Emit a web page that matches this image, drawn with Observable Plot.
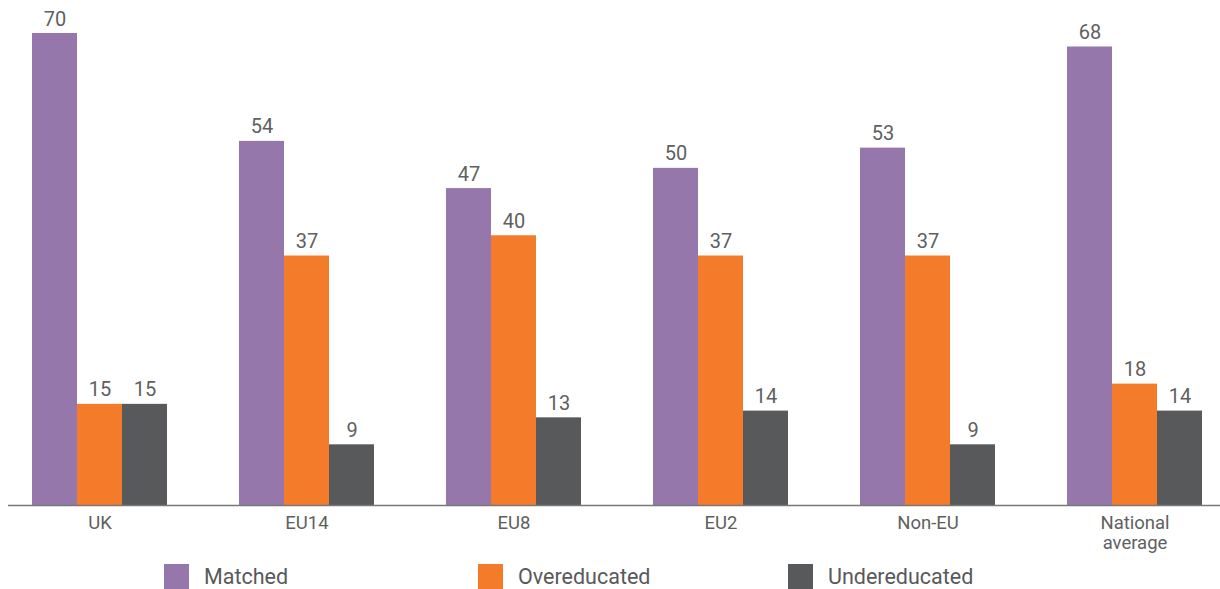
<!DOCTYPE html>
<html>
<head>
<meta charset="utf-8">
<script src="https://cdn.jsdelivr.net/npm/d3@7"></script>
<script src="https://cdn.jsdelivr.net/npm/@observablehq/plot@0.6"></script>
<style>
  body { margin: 0; background: #fff; font-family: Roboto, sans-serif; }
  #legend { position: relative; height: 27px; margin-top: 4px; }
  .item { position: absolute; top: 0; display: flex; align-items: center; height: 25px; color: #58595B; font-size: 21.5px; }
  .sw { width: 25px; height: 25px; margin-right: 15px; }
</style>
</head>
<body>
<div id="chart"></div>
<div id="legend"></div>
<script>
const groups = ["UK", "EU14", "EU8", "EU2", "Non-EU", "National average"];
const tickLabels = ["UK", "EU14", "EU8", "EU2", "Non-EU", "National\naverage"];
const series = ["Matched", "Overeducated", "Undereducated"];
const matched = [70, 54, 47, 50, 53, 68];
const overeducated = [15, 37, 40, 37, 37, 18];
const undereducated = [15, 9, 13, 14, 9, 14];
const colors = ["#9677AB", "#F47B2A", "#58595B"];

const seriesValues = [matched, overeducated, undereducated];
const data = [];
series.forEach((s, si) => groups.forEach((g, gi) => data.push({group: g, series: s, value: seriesValues[si][gi]})));
const ticks = groups.map((g, i) => ({group: g, label: tickLabels[i]}));

const barW = 45;
const offsets = [-barW, 0, barW];
const marks = [];
series.forEach((s, si) => {
  const d = data.filter(r => r.series === s);
  marks.push(Plot.barY(d, {x: "group", y: "value", fill: colors[si], dx: offsets[si], insetLeft: 0, insetRight: 0}));
  marks.push(Plot.text(d, {x: "group", y: "value", text: r => String(r.value), dx: offsets[si], dy: -8, lineAnchor: "bottom", fill: "#5E5F61", fontSize: 20}));
});

const chart = Plot.plot({
  width: 1220,
  height: 560,
  marginLeft: 8,
  marginRight: 0,
  marginTop: 0,
  marginBottom: 55,
  style: {fontFamily: "Roboto, sans-serif", background: "#fff", fontSize: "18px"},
  x: {domain: groups, range: [75.5, 1158.5], paddingInner: 1 - barW / 207.6, paddingOuter: 0, axis: null},
  y: {domain: [0, 70], range: [505, 33], axis: null},
  marks: [
    ...marks,
    Plot.ruleY([0], {stroke: "#77787B", strokeWidth: 1.5}),
    Plot.text(ticks, {x: "group", y: () => 0, text: "label", lineAnchor: "top", dy: 9, fontSize: 18.5, lineHeight: 1.08, fill: "#5E5F61"})
  ]
});
document.getElementById("chart").appendChild(chart);

const legend = document.getElementById("legend");
const lefts = [164, 478, 788];
series.forEach((s, i) => {
  const it = document.createElement("div");
  it.className = "item";
  it.style.left = lefts[i] + "px";
  it.innerHTML = `<div class="sw" style="background:${colors[i]}"></div><span>${s}</span>`;
  legend.appendChild(it);
});
</script>
</body>
</html>
